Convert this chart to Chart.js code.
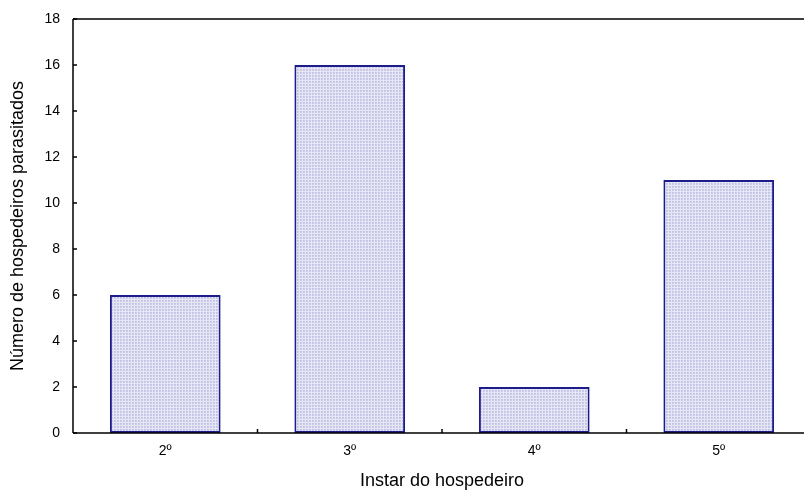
<!DOCTYPE html>
<html><head><meta charset="utf-8">
<script src="https://cdn.jsdelivr.net/npm/chart.js@4/dist/chart.umd.min.js"></script>
<style>html,body{margin:0;padding:0;background:#fff;overflow:hidden;width:804px;height:493px}#wrap{width:812px;height:493px}</style>
</head><body><div id="wrap"><canvas id="c" width="812" height="493"></canvas></div>
<script>
const categories = ["2º", "3º", "4º", "5º"];
const parasitized = [6, 16, 2, 11];
const yTicks = [0, 2, 4, 6, 8, 10, 12, 14, 16, 18];
const xTitle = "Instar do hospedeiro";
const yTitle = "Número de hospedeiros parasitados";

const pc = document.createElement('canvas');
pc.width = 3; pc.height = 3;
const pctx = pc.getContext('2d');
pctx.fillStyle = '#cacae9'; pctx.fillRect(0,0,3,3);
pctx.fillStyle = '#e6e6f5'; pctx.fillRect(2,0,1,3); pctx.fillRect(0,2,3,1);
pctx.fillStyle = '#bdbde2'; pctx.fillRect(0,0,1,1);
const ctx0 = document.getElementById('c').getContext('2d');
const pattern = ctx0.createPattern(pc, 'repeat');

const FONT = "'Liberation Sans', Arial, sans-serif";

const frame = {
  id: 'frame',
  afterDraw(chart) {
    const {ctx, chartArea: a, scales} = chart;
    ctx.save();
    ctx.strokeStyle = '#000';
    ctx.lineWidth = 1.5;
    ctx.beginPath();
    ctx.moveTo(a.left, a.top); ctx.lineTo(a.right, a.top);
    ctx.moveTo(a.left, a.top); ctx.lineTo(a.left, a.bottom);
    ctx.moveTo(a.left, a.bottom); ctx.lineTo(a.right, a.bottom);
    ctx.stroke();
    ctx.beginPath();
    yTicks.forEach(v => {
      const y = Math.round(scales.y.getPixelForValue(v));
      ctx.moveTo(a.left, y); ctx.lineTo(a.left + 4, y);
    });
    for (let i = 1; i < categories.length; i++) {
      const x = (scales.x.getPixelForValue(i - 1) + scales.x.getPixelForValue(i)) / 2;
      ctx.moveTo(x, a.bottom); ctx.lineTo(x, a.bottom - 4);
    }
    ctx.stroke();
    ctx.restore();
  }
};

new Chart(ctx0, {
  type: 'bar',
  data: {
    labels: categories,
    datasets: [{
      data: parasitized,
      backgroundColor: pattern,
      borderColor: '#1c1c8a',
      borderWidth: 2,
      borderSkipped: false,
      barPercentage: 0.6,
      categoryPercentage: 1.0
    }]
  },
  options: {
    responsive: false,
    animation: false,
    events: [],
    layout: { padding: { top: 19, right: 1, left: 0, bottom: 0 } },
    plugins: { legend: { display: false }, tooltip: { enabled: false } },
    scales: {
      x: {
        grid: { display: false, drawTicks: false },
        border: { display: false },
        ticks: { color: '#000', font: { family: FONT, size: 14 }, padding: 10 },
        title: { display: true, text: xTitle, color: '#000', font: { family: FONT, size: 18 }, padding: { top: 0, bottom: 1 } },
        afterFit(s) { s.height = 60; s.paddingLeft = 0; s.paddingRight = 0; }
      },
      y: {
        min: 0, max: 18,
        afterBuildTicks(s) { s.ticks = yTicks.map(v => ({ value: v })); },
        grid: { display: false, drawTicks: false },
        border: { display: false },
        ticks: { color: '#000', font: { family: FONT, size: 14 }, padding: 13 },
        title: { display: true, text: yTitle, color: '#000', font: { family: FONT, size: 18 }, padding: { top: 7, bottom: 0 } },
        afterFit(s) { s.width = 73; s.paddingTop = 0; s.paddingBottom = 0; }
      }
    }
  },
  plugins: [frame]
});
</script>
</body></html>
